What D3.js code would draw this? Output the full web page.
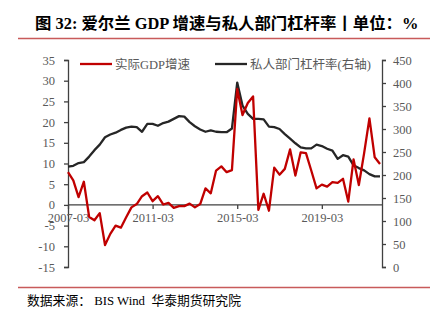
<!DOCTYPE html>
<html><head><meta charset="utf-8">
<script src="https://cdn.jsdelivr.net/npm/d3@7"></script>
<style>
html,body{margin:0;padding:0;background:#fff;}
svg{display:block;font-family:"Liberation Serif","Noto Sans CJK SC",serif;}
</style></head>
<body>
<script>
const quarters = ["2007-03","2007-06","2007-09","2007-12","2008-03","2008-06","2008-09","2008-12",
"2009-03","2009-06","2009-09","2009-12","2010-03","2010-06","2010-09","2010-12",
"2011-03","2011-06","2011-09","2011-12","2012-03","2012-06","2012-09","2012-12",
"2013-03","2013-06","2013-09","2013-12","2014-03","2014-06","2014-09","2014-12",
"2015-03","2015-06","2015-09","2015-12","2016-03","2016-06","2016-09","2016-12",
"2017-03","2017-06","2017-09","2017-12","2018-03","2018-06","2018-09","2018-12",
"2019-03","2019-06","2019-09","2019-12","2020-03","2020-06","2020-09","2020-12",
"2021-03","2021-06","2021-09","2021-12"];
const gdpGrowth = [7.9,5.9,1.9,5.6,-2.9,-3.7,-2.0,-9.7,-7.0,-5.0,
-5.5,-3.0,-0.6,0.2,2.1,3.0,0.9,2.1,0.1,0.5,
-0.7,-0.3,-0.3,0.3,-0.6,0.2,4.0,2.8,8.3,9.3,
7.9,8.4,28.0,21.7,24.6,26.2,-1.2,2.7,-1.4,9.0,
7.3,8.7,13.4,7.1,12.7,12.5,8.3,4.0,4.9,4.4,
5.5,5.3,6.3,0.8,11.0,4.8,12.5,20.9,11.5,9.9];
const leverage = [218,220,226,228,240,254,266,282,288,292,
298,303,305,304,294,311,311,307,313,316,
322,328,327,315,306,299,294,297,294,293,
293,301,401,351,333,322,322,321,305,304,
300,289,279,269,260,258,258,266,263,257,
253,235,243,240,221,215,210,202,197,197];
const xTickLabels = ["2007-03","2011-03","2015-03","2019-03"];
const leftTicks = [-15,-10,-5,0,5,10,15,20,25,30,35];
const rightTicks = [0,50,100,150,200,250,300,350,400,450];
const seriesNames = ["实际GDP增速","私人部门杠杆率(右轴)"];
const titleText = "图 32: 爱尔兰 GDP 增速与私人部门杠杆率丨单位：%";
const sourceText = "数据来源： BIS Wind  华泰期货研究院";

const W = 445, H = 330;
const plot = {left:68, right:382, top:60, bottom:267};
const svg = d3.select("body").append("svg").attr("width",W).attr("height",H);

const x = d3.scalePoint().domain(quarters).range([plot.left, 380]);
const yL = d3.scaleLinear().domain([-15,35]).range([plot.bottom, plot.top]);
const yR = d3.scaleLinear().domain([0,450]).range([plot.bottom, plot.top]);

// title
svg.append("text").attr("x",35).attr("y",29).attr("font-size",16.4).attr("font-weight","bold")
  .attr("fill","#000").style("white-space","pre").text(titleText);
svg.append("line").attr("x1",18).attr("x2",430).attr("y1",38.5).attr("y2",38.5)
  .attr("stroke","#c85a5a").attr("stroke-width",1.5);
svg.append("line").attr("x1",18).attr("x2",430).attr("y1",287.5).attr("y2",287.5)
  .attr("stroke","#c85a5a").attr("stroke-width",1.5);
svg.append("text").attr("x",27).attr("y",305).attr("font-size",12.8).attr("fill","#000")
  .style("white-space","pre").text(sourceText);

const axisColor = "#404040", labelColor = "#595959";

// left axis
const gl = svg.append("g").attr("transform",`translate(${plot.left},0)`)
  .call(d3.axisLeft(yL).tickValues(leftTicks).tickSize(4).tickPadding(9).tickFormat(d3.format("d")));
gl.select(".domain").attr("stroke",axisColor).attr("stroke-width",1.3);
gl.selectAll(".tick line").attr("stroke",axisColor).attr("stroke-width",1.3);
gl.selectAll(".tick text").attr("fill",labelColor).attr("font-size",12.5)
  .attr("font-family","Liberation Serif").text(d=>d<0?"-"+Math.abs(d):d);

// right axis
const gr = svg.append("g").attr("transform",`translate(${plot.right},0)`)
  .call(d3.axisRight(yR).tickValues(rightTicks).tickSize(4).tickPadding(7));
gr.select(".domain").attr("stroke",axisColor).attr("stroke-width",1.3);
gr.selectAll(".tick line").attr("stroke",axisColor).attr("stroke-width",1.3);
gr.selectAll(".tick text").attr("fill",labelColor).attr("font-size",12.5).attr("font-family","Liberation Serif");

// zero line x axis
const gx = svg.append("g").attr("transform",`translate(0,${yL(0)})`)
  .call(d3.axisBottom(x).tickValues(xTickLabels).tickSize(4).tickPadding(4));
gx.select(".domain").remove();
svg.append("line").attr("x1",plot.left).attr("x2",plot.right).attr("y1",yL(0)).attr("y2",yL(0))
  .attr("stroke",axisColor).attr("stroke-width",1.3);
gx.selectAll(".tick line").attr("stroke",axisColor).attr("stroke-width",1.3);
gx.selectAll(".tick text").attr("fill",labelColor).attr("font-size",12.5).attr("font-family","Liberation Serif");

// lines
const lineL = d3.line().x((d,i)=>x(quarters[i])).y(d=>yL(d));
const lineR = d3.line().x((d,i)=>x(quarters[i])).y(d=>yR(d));
svg.append("path").datum(leverage).attr("d",lineR).attr("fill","none")
  .attr("stroke","#262626").attr("stroke-width",2.3).attr("stroke-linejoin","round");
svg.append("path").datum(gdpGrowth).attr("d",lineL).attr("fill","none")
  .attr("stroke","#c00000").attr("stroke-width",2.3).attr("stroke-linejoin","round");

// legend
const legend = [{name:seriesNames[0],color:"#c00000",x:80},{name:seriesNames[1],color:"#262626",x:215}];
legend.forEach(l=>{
  svg.append("line").attr("x1",l.x).attr("x2",l.x+32).attr("y1",64).attr("y2",64)
    .attr("stroke",l.color).attr("stroke-width",2.3);
  svg.append("text").attr("x",l.x+35).attr("y",68.5).attr("font-size",12.5).attr("fill",labelColor).text(l.name);
});
</script>
</body></html>
